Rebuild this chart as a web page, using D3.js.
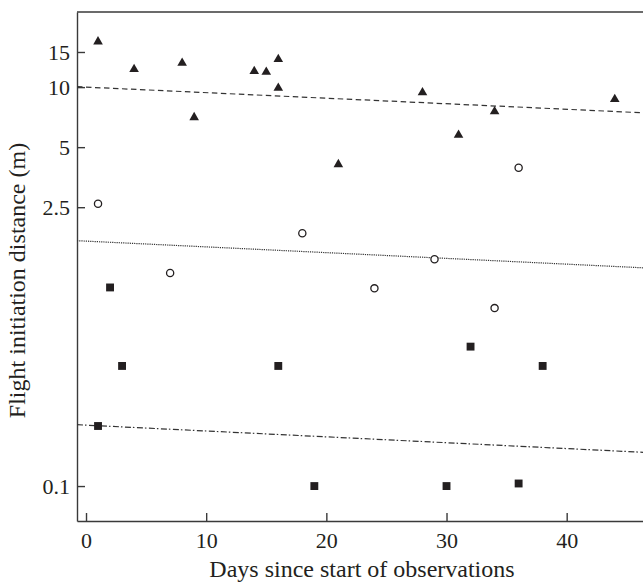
<!DOCTYPE html>
<html>
<head>
<meta charset="utf-8">
<title>Flight initiation distance</title>
<script src="https://cdn.jsdelivr.net/npm/d3@7"></script>
<style>
  html, body { margin: 0; padding: 0; background: #fff; }
  svg { display: block; }
  text { font-family: "Liberation Serif", "DejaVu Serif", serif; fill: #231f20; }
</style>
</head>
<body>
<div id="chart"></div>
<script>
// triangles (filled)
var triDays = [1, 4, 8, 9, 14, 15, 16, 16, 21, 28, 31, 34, 44];
var triFid  = [16.9, 12.3, 13.2, 7.05, 12.0, 11.9, 13.8, 9.9, 4.1, 9.4, 5.75, 7.55, 8.7];
// open circles
var circDays = [1, 7, 18, 24, 29, 34, 36];
var circFid  = [2.6, 1.17, 1.85, 0.98, 1.37, 0.78, 3.94];
// filled squares
var sqDays = [1, 2, 3, 16, 19, 30, 32, 36, 38];
var sqFid  = [0.2, 0.99, 0.4, 0.4, 0.1, 0.1, 0.5, 0.103, 0.4];
// fitted lines: value at day 0 and day 46
var fitAt0  = [10, 1.69, 0.202];
var fitAt46 = [7.45, 1.245, 0.148];
var fitDash = ["5.5,3.5", "1.2,1", "6,2,1.5,2.5"];

var xTicks = [0, 10, 20, 30, 40];
var yTicks = [0.1, 2.5, 5, 10, 15];

var W = 643, H = 583;
var margin = {top: 12, right: 0, bottom: 62, left: 77};
var w = W - margin.left - margin.right;
var h = H - margin.top - margin.bottom;

var svg = d3.select('#chart').append('svg')
    .attr('width', W)
    .attr('height', H);
var g = svg.append('g').attr('transform', 'translate(' + margin.left + ',' + margin.top + ')');

var x = d3.scaleLinear().domain([-0.75, 46.35]).range([0, w]);
var y = d3.scaleLog().domain([0.0668, 23.8]).range([h, 0]);

var axisColor = '#3a3a3a';

// top border
g.append('line')
    .attr('x1', 0).attr('x2', w)
    .attr('y1', 0).attr('y2', 0)
    .attr('stroke', axisColor).attr('stroke-width', 1.4);

var xAxis = g.append('g')
    .attr('transform', 'translate(0,' + h + ')')
    .call(d3.axisBottom(x).tickValues(xTicks).tickSize(-8).tickSizeOuter(0).tickPadding(11));
var yAxis = g.append('g')
    .call(d3.axisLeft(y).tickValues(yTicks).tickFormat(function(d){ return String(d); })
          .tickSize(-8).tickSizeOuter(0).tickPadding(7));

[xAxis, yAxis].forEach(function(a){
    a.select('.domain').attr('stroke', axisColor).attr('stroke-width', 1.4);
    a.selectAll('.tick line').attr('stroke', axisColor).attr('stroke-width', 1.4);
    a.selectAll('.tick text')
        .style('font-family', '"Liberation Serif", serif')
        .style('font-size', '22px')
        .attr('fill', '#231f20');
});

// fitted lines
var lineGen = d3.line().x(function(d){ return x(d[0]); }).y(function(d){ return y(d[1]); });
var x0 = x.domain()[0], x1 = x.domain()[1];
fitAt0.forEach(function(v0, i){
    var v46 = fitAt46[i];
    var f = function(d){ return v0 * Math.pow(v46 / v0, d / 46); };
    g.append('path')
        .datum([[x0, f(x0)], [x1, f(x1)]])
        .attr('d', lineGen)
        .attr('fill', 'none')
        .attr('stroke', '#333')
        .attr('stroke-width', 1.2)
        .attr('stroke-dasharray', fitDash[i]);
});

var ink = '#231f20';

// triangles
g.selectAll('.tri')
    .data(d3.zip(triDays, triFid))
    .enter().append('path')
    .attr('class', 'tri')
    .attr('d', d3.symbol().type(d3.symbolTriangle).size(40))
    .attr('transform', function(d){ return 'translate(' + x(d[0]) + ',' + y(d[1]) + ')'; })
    .attr('fill', ink);

// circles
g.selectAll('.circ')
    .data(d3.zip(circDays, circFid))
    .enter().append('circle')
    .attr('class', 'circ')
    .attr('cx', function(d){ return x(d[0]); })
    .attr('cy', function(d){ return y(d[1]); })
    .attr('r', 3.6)
    .attr('fill', '#fff')
    .attr('stroke', ink)
    .attr('stroke-width', 1.3);

// squares
g.selectAll('.sq')
    .data(d3.zip(sqDays, sqFid))
    .enter().append('path')
    .attr('class', 'sq')
    .attr('d', d3.symbol().type(d3.symbolSquare).size(62))
    .attr('transform', function(d){ return 'translate(' + x(d[0]) + ',' + y(d[1]) + ')'; })
    .attr('fill', ink);

// axis titles
g.append('text')
    .attr('x', (w) / 2 + 2)
    .attr('y', h + 56)
    .attr('text-anchor', 'middle')
    .style('font-size', '24px')
    .text('Days since start of observations');

g.append('text')
    .attr('transform', 'translate(' + (-52) + ',' + (h / 2 + 14) + ') rotate(-90)')
    .attr('text-anchor', 'middle')
    .style('font-size', '24px')
    .text('Flight initiation distance (m)');
</script>
</body>
</html>
